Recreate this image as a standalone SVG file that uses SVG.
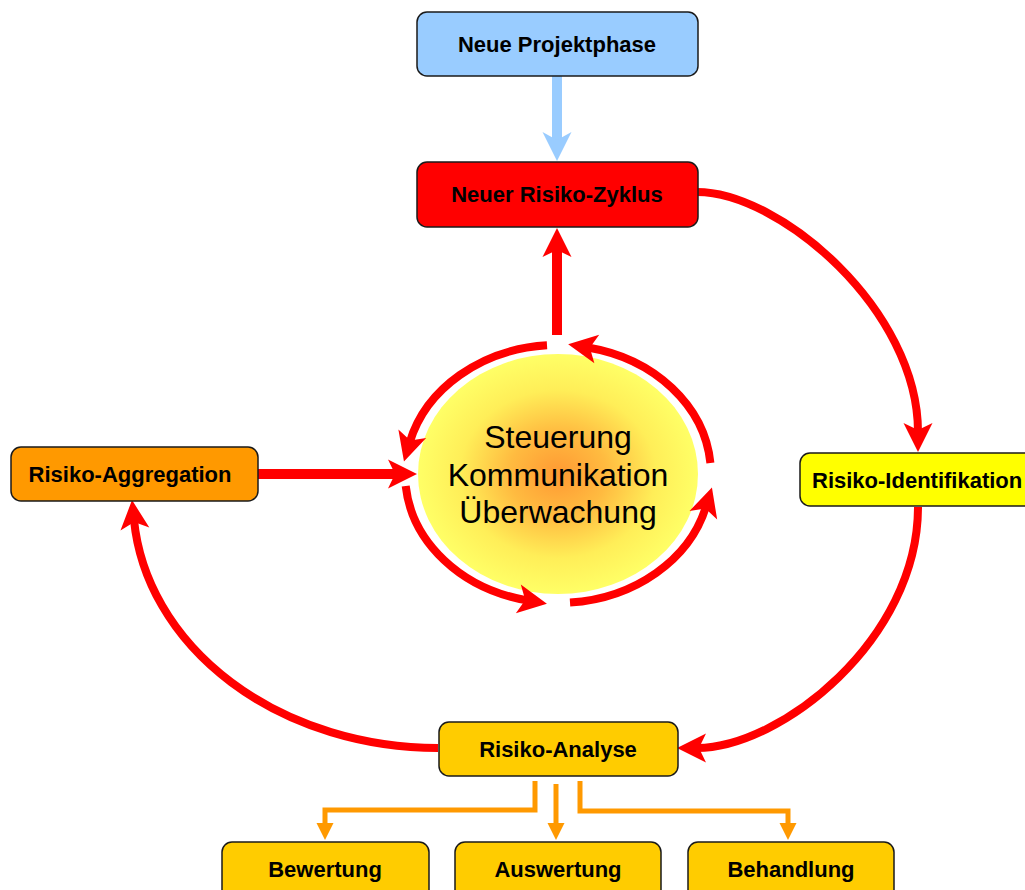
<svg xmlns="http://www.w3.org/2000/svg" width="1025" height="890" viewBox="0 0 1025 890">
  <style>
    .box { stroke: #1a1a1a; stroke-width: 1.5; }
    .lbl { font-family: "Liberation Sans", Arial, sans-serif; font-weight: bold; font-size: 22px; fill: #000; text-anchor: middle; }
    .core { font-family: "Liberation Sans", Arial, sans-serif; font-size: 32px; fill: #000; text-anchor: middle; }
    .red { fill: none; stroke: #ff0000; stroke-width: 8; }
    .redw { fill: none; stroke: #ff0000; stroke-width: 10; }
    .blue { fill: none; stroke: #99ccff; stroke-width: 10; }
    .orng { fill: none; stroke: #ff9900; stroke-width: 5; }
  </style>
  <defs>
    <radialGradient id="coreFill" cx="0.5" cy="0.5" r="0.5">
      <stop offset="0" stop-color="#ff9933"/>
      <stop offset="0.35" stop-color="#ffbb40"/>
      <stop offset="0.7" stop-color="#ffee58"/>
      <stop offset="1" stop-color="#ffff66"/>
    </radialGradient>
    <marker id="headRed" markerUnits="userSpaceOnUse" orient="auto" refX="0" refY="0" markerWidth="40" markerHeight="40" overflow="visible">
      <path d="M20,0 L-9,-14.5 L-2,0 L-9,14.5 Z" fill="#ff0000"/>
    </marker>
    <marker id="headBlue" markerUnits="userSpaceOnUse" orient="auto" refX="0" refY="0" markerWidth="40" markerHeight="40" overflow="visible">
      <path d="M20,0 L-9,-14.5 L-1,0 L-9,14.5 Z" fill="#99ccff"/>
    </marker>
    <marker id="headOrange" markerUnits="userSpaceOnUse" orient="auto" refX="0" refY="0" markerWidth="30" markerHeight="30" overflow="visible">
      <path d="M11,0 L-6,-8.5 L-6,8.5 Z" fill="#ff9900"/>
    </marker>
  </defs>

  <!-- central hub -->
  <g id="hub">
    <ellipse cx="558" cy="474" rx="140" ry="120" fill="url(#coreFill)"/>
    <text class="core" x="558" y="448">Steuerung</text>
    <text class="core" x="558" y="486">Kommunikation</text>
    <text class="core" x="558" y="523">Überwachung</text>
  </g>

  <!-- connectors -->
  <g id="connectors">
    <!-- ring around the hub -->
    <path class="red" d="M547,345.3 A153,129 0 0 0 409.7,442.4" marker-end="url(#headRed)"/>
    <path class="red" d="M710.4,463 A153,129 0 0 0 587.9,347.5" marker-end="url(#headRed)"/>
    <path class="red" d="M405.7,486 A153,129 0 0 0 527.2,600.4" marker-end="url(#headRed)"/>
    <path class="red" d="M570,602.6 A153,129 0 0 0 706,506.7" marker-end="url(#headRed)"/>

    <!-- project phase to new cycle -->
    <path class="blue" d="M557,76 L557,141" marker-end="url(#headBlue)"/>
    <!-- hub to new cycle -->
    <path class="redw" d="M557,335 L557,248" marker-end="url(#headRed)"/>
    <!-- aggregation to hub -->
    <path class="redw" d="M258,474 L397,474" marker-end="url(#headRed)"/>

    <!-- outer cycle -->
    <path class="red" d="M697,192 C780,192 918,310 918,432" marker-end="url(#headRed)"/>
    <path class="red" d="M918,507 C918,640 780,748 697,748" marker-end="url(#headRed)"/>
    <path class="red" d="M438,748 A305,248 0 0 1 134,520" marker-end="url(#headRed)"/>

    <!-- analysis branches -->
    <path class="orng" d="M535,781 L535,810 L325,810 L325,829" marker-end="url(#headOrange)"/>
    <path class="orng" d="M556,784 L556,829" marker-end="url(#headOrange)"/>
    <path class="orng" d="M580,781 L580,811 L788,811 L788,829" marker-end="url(#headOrange)"/>
  </g>

  <g id="neue-projektphase">
    <rect class="box" x="417" y="12" width="281" height="64" rx="10" fill="#99ccff"/>
    <text class="lbl" x="557" y="52">Neue Projektphase</text>
  </g>
  <g id="neuer-risiko-zyklus">
    <rect class="box" x="417" y="162" width="281" height="65" rx="10" fill="#ff0000"/>
    <text class="lbl" x="557" y="202">Neuer Risiko-Zyklus</text>
  </g>
  <g id="risiko-aggregation">
    <rect class="box" x="11" y="447" width="247" height="54" rx="10" fill="#ff9900"/>
    <text class="lbl" x="130" y="482">Risiko-Aggregation</text>
  </g>
  <g id="risiko-identifikation">
    <rect class="box" x="800" y="453" width="250" height="53" rx="10" fill="#ffff00"/>
    <text class="lbl" x="812" y="488" style="text-anchor:start">Risiko-Identifikation</text>
  </g>
  <g id="risiko-analyse">
    <rect class="box" x="439" y="722" width="239" height="54" rx="10" fill="#ffcc00"/>
    <text class="lbl" x="558" y="757">Risiko-Analyse</text>
  </g>
  <g id="bewertung">
    <rect class="box" x="222" y="842" width="207" height="60" rx="10" fill="#ffcc00"/>
    <text class="lbl" x="325" y="877">Bewertung</text>
  </g>
  <g id="auswertung">
    <rect class="box" x="455" y="842" width="206" height="60" rx="10" fill="#ffcc00"/>
    <text class="lbl" x="558" y="877">Auswertung</text>
  </g>
  <g id="behandlung">
    <rect class="box" x="688" y="842" width="206" height="60" rx="10" fill="#ffcc00"/>
    <text class="lbl" x="791" y="877">Behandlung</text>
  </g>
</svg>
